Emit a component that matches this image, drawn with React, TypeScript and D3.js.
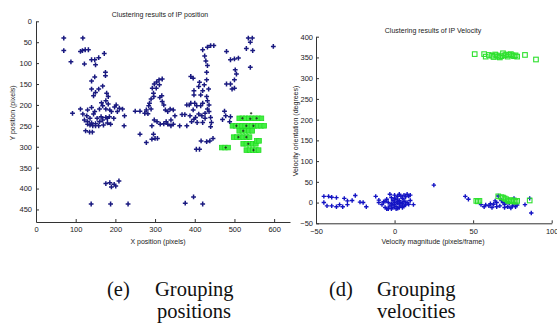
import { useEffect, useRef } from 'react';
import * as d3 from 'd3';

type Pt = [number, number];

// ---- tick labels ----
const posXTicks = [0, 100, 200, 300, 400, 500, 600];
const posYTicks = [0, 50, 100, 150, 200, 250, 300, 350, 400, 450];
const velXTicks = [-50, 0, 50, 100];
const velYTicks = [-50, 0, 50, 100, 150, 200, 250, 300, 350, 400];

// ---- position clustering (pixels) ----
const posBlue: Pt[] = [
  [70, 40], [70, 70], [88, 97], [118, 40], [112, 72], [117, 70], [124, 68], [132, 68], [122, 102], [140, 92],
  [148, 92], [150, 104], [158, 87], [172, 77], [175, 122], [175, 130], [148, 133], [140, 143], [140, 162], [150, 170],
  [145, 178], [158, 162], [168, 155], [178, 172], [182, 180], [176, 190], [182, 198], [168, 202], [160, 210], [176, 210],
  [186, 212], [148, 216], [140, 206], [130, 212], [112, 210], [92, 220], [118, 222], [122, 236], [130, 240], [136, 248],
  [143, 250], [150, 245], [160, 240], [168, 236], [176, 230], [185, 228], [188, 246], [170, 248], [158, 250], [150, 250],
  [140, 243], [130, 246], [125, 262], [135, 265], [142, 265], [190, 216], [198, 205], [205, 216], [210, 208], [218, 210],
  [223, 226], [222, 250], [196, 232], [180, 243], [164, 228], [154, 232], [145, 222], [136, 232], [128, 226], [202, 200],
  [165, 195], [180, 232],
  [250, 215], [262, 215], [262, 270], [274, 220], [278, 290], [282, 221], [290, 210], [286, 196], [290, 186], [296, 172],
  [293, 160], [298, 150], [304, 145], [310, 140], [318, 138], [311, 152], [303, 160], [297, 180], [284, 202], [278, 212],
  [312, 182], [317, 178], [318, 192], [322, 200], [326, 212], [332, 216], [338, 210], [346, 212], [350, 226], [340, 236],
  [332, 246], [322, 245], [313, 246], [305, 240], [298, 236], [292, 250], [296, 270], [292, 282], [300, 280], [306, 280],
  [340, 250], [346, 246], [362, 250], [368, 223], [375, 223], [380, 250], [328, 240],
  [380, 200], [386, 200], [390, 132], [396, 136], [398, 166], [390, 196], [396, 212], [388, 226], [392, 240], [398, 234],
  [402, 230], [406, 242], [410, 222], [418, 226], [420, 242], [426, 220], [415, 202], [420, 196], [412, 146], [410, 156],
  [424, 152], [430, 140], [430, 122], [432, 106], [428, 95], [425, 83], [420, 68], [432, 62], [440, 58], [448, 58],
  [435, 162], [430, 180], [432, 190], [436, 200], [440, 230], [442, 242], [440, 252], [438, 286], [446, 280], [430, 288],
  [416, 286], [404, 306], [412, 306], [398, 176], [420, 166], [405, 202], [432, 210], [436, 216], [400, 196], [426, 232],
  [415, 176],
  [480, 72], [490, 92], [500, 90], [510, 88], [480, 150], [490, 150], [494, 162], [500, 160], [500, 140], [505, 126],
  [502, 116], [475, 215], [470, 235], [478, 226], [490, 228], [488, 240], [530, 65], [535, 40], [545, 40], [540, 50],
  [546, 70], [540, 110], [598, 60],
  [176, 388], [186, 386], [190, 396], [197, 390], [201, 394], [209, 382], [139, 437], [188, 437], [232, 437], [376, 435],
  [397, 420], [420, 437],
];

const posGreen: Pt[] = [
  [512, 232], [520, 232], [528, 232], [536, 232], [544, 232], [552, 232], [560, 232], [568, 232],
  [495, 250], [503, 250], [511, 250], [519, 250], [527, 250], [535, 250], [543, 250], [551, 250], [559, 250], [567, 250], [575, 250],
  [512, 262], [520, 262], [528, 262], [536, 262], [545, 262],
  [498, 277], [506, 277], [514, 277], [522, 277], [530, 277], [538, 277],
  [522, 293], [530, 293], [538, 293], [546, 293], [554, 293],
  [530, 308], [538, 308], [546, 308], [554, 308], [561, 308],
  [556, 286], [562, 286], [468, 302], [476, 302], [484, 302],
];

const posInside: Pt[] = [
  [520, 232], [540, 233], [556, 232], [505, 250], [530, 250], [548, 250], [522, 262], [510, 277], [530, 277],
  [535, 293], [548, 308], [478, 302], [542, 220],
];

// ---- velocity clustering (magnitude, orientation) ----
const velBlue: Pt[] = [
  [-45, 15], [-42, 15], [-40, 13], [-37, 12], [-32, 10], [-45, 0], [-43, -8], [-40, -8], [-37, -10], [-35, -5],
  [-33, -10], [-30, -5], [-30, 4], [-25, 17], [-27, 5], [-22, 1], [-20, 0], [-18, -10], [-12, 15], [-10, 0], [-10, 6],
  [-8, -5], [-7, 2], [-6, -12], [-5, 8], [-4, -15], [-4, 0], [-3, -8], [-3, 20], [-2, -3], [-2, 12], [-1, -12], [-1, 5],
  [0, -5], [0, 18], [0, 0], [1, -10], [1, 8], [2, -2], [2, 15], [2, -14], [3, 20], [3, 5], [4, -8], [4, 0], [4, 16],
  [5, -3], [5, 10], [5, -12], [6, 18], [6, 2], [7, -6], [7, 14], [8, 0], [8, 20], [9, -4], [9, 16], [10, 18], [10, 5],
  [12, -5], [-5, -15], [-2, -15], [1, -15], [3, -12], [6, -9], [-6, 3], [0, 10], [2, 2], [-1, -6], [3, -3], [6, 6],
  [25, 42],
  [45, 15], [47, 8], [55, -5], [57, -10], [60, -8], [62, -12], [63, -4], [65, 0], [65, -10], [67, -8], [68, 5], [70, -5],
  [70, -12], [72, -10], [73, -2], [74, -13], [75, -8], [76, -2], [77, -10], [78, -6], [76, 10], [66, 16], [64, 4], [69, 0],
  [71, 2], [83, -5], [86, 10], [87, -25], [58, -6], [61, -3],
];

const velGreen: Pt[] = [
  [52, 4], [53, 3], [54, 4], [66, 15], [68, 13], [70, 10], [71, 8], [72, 5], [73, 3], [74, 6], [75, 3], [76, 5],
  [77, 2], [78, 4], [86, 5], [69, 12],
  [51, 358], [57, 358], [58, 352], [60, 356], [62, 354], [63, 351], [64, 357], [65, 355], [66, 352], [67, 350],
  [68, 353], [69, 360], [70, 355], [71, 357], [72, 352], [73, 356], [74, 358], [75, 355], [76, 353], [77, 355],
  [78, 352], [83, 356], [90, 345],
];

const plus = (x: number, y: number, s: number) => `M${x - s},${y}H${x + s}M${x},${y - s}V${y + s}`;

export default function App() {
  const svgRef = useRef<SVGSVGElement>(null);

  useEffect(() => {
    if (!svgRef.current) return;
    const svg = d3.select(svgRef.current);
    svg.selectAll('*').remove();

    const font = 'Liberation Sans, Arial, sans-serif';

    const styleAxis = (g: d3.Selection<SVGGElement, unknown, null, undefined>) => {
      g.selectAll('path.domain').attr('stroke', '#333');
      g.selectAll('.tick line').attr('stroke', '#333');
      g.selectAll('.tick text').attr('fill', '#222').style('font-family', font).style('font-size', '7.5px');
    };

    // ---------- left: positions ----------
    const px = d3.scaleLinear().domain([0, 640]).range([36, 290]);
    const py = d3.scaleLinear().domain([0, 480]).range([21.3, 222]);

    const gl = svg.append('g');
    gl.append('g')
      .attr('transform', `translate(0,${py(480)})`)
      .call(d3.axisBottom(px).tickValues(posXTicks).tickSizeInner(-3).tickSizeOuter(0).tickPadding(5))
      .call(styleAxis);
    gl.append('g')
      .attr('transform', `translate(${px(0)},0)`)
      .call(d3.axisLeft(py).tickValues(posYTicks).tickSizeInner(-3).tickSizeOuter(0).tickPadding(4))
      .call(styleAxis);

    gl.selectAll('rect.g')
      .data(posGreen)
      .enter()
      .append('rect')
      .attr('x', d => px(d[0]) - 2.3)
      .attr('y', d => py(d[1]) - 2.3)
      .attr('width', 4.6)
      .attr('height', 4.6)
      .attr('fill', '#44ee44')
      .attr('stroke', '#22dd22')
      .attr('stroke-width', 0.8);

    gl.append('path')
      .attr('d', posBlue.map(d => plus(px(d[0]), py(d[1]), 2.4)).join(''))
      .attr('stroke', '#1a1a80')
      .attr('stroke-width', 1.5)
      .attr('fill', 'none');

    gl.append('path')
      .attr('d', posInside.map(d => plus(px(d[0]), py(d[1]), 1.2)).join(''))
      .attr('stroke', '#223322')
      .attr('stroke-width', 0.9)
      .attr('fill', 'none');

    gl.append('text').attr('x', 160).attr('y', 16.5).attr('text-anchor', 'middle')
      .style('font-family', font).style('font-size', '7px').attr('fill', '#222')
      .text('Clustering results of IP position');
    gl.append('text').attr('x', 158).attr('y', 243.5).attr('text-anchor', 'middle')
      .style('font-family', font).style('font-size', '7px').attr('fill', '#222')
      .text('X position (pixels)');
    gl.append('text').attr('transform', 'translate(14.5,113) rotate(-90)').attr('text-anchor', 'middle')
      .style('font-family', font).style('font-size', '7px').attr('fill', '#222')
      .text('Y position (pixels)');

    // ---------- right: velocities ----------
    const vx = d3.scaleLinear().domain([-50, 100]).range([316, 551.7]);
    const vy = d3.scaleLinear().domain([-50, 400]).range([223.3, 36.7]);

    const gr = svg.append('g');
    gr.append('g')
      .attr('transform', `translate(0,${vy(-50)})`)
      .call(d3.axisBottom(vx).tickValues(velXTicks).tickSizeInner(-3).tickSizeOuter(0).tickPadding(5))
      .call(styleAxis);
    gr.append('g')
      .attr('transform', `translate(${vx(-50)},0)`)
      .call(d3.axisLeft(vy).tickValues(velYTicks).tickSizeInner(-3).tickSizeOuter(0).tickPadding(3))
      .call(styleAxis);

    gr.append('path')
      .attr('d', velBlue.map(d => plus(vx(d[0]), vy(d[1]), 2.2)).join(''))
      .attr('stroke', '#1414c4')
      .attr('stroke-width', 1.4)
      .attr('fill', 'none');

    gr.selectAll('rect.v')
      .data(velGreen)
      .enter()
      .append('rect')
      .attr('x', d => vx(d[0]) - 2.3)
      .attr('y', d => vy(d[1]) - 2.3)
      .attr('width', 4.6)
      .attr('height', 4.6)
      .attr('fill', 'none')
      .attr('stroke', '#2ee02e')
      .attr('stroke-width', 1.1);

    gr.append('text').attr('x', 433).attr('y', 32.5).attr('text-anchor', 'middle')
      .style('font-family', font).style('font-size', '7px').attr('fill', '#222')
      .text('Clustering results of IP Velocity');
    gr.append('text').attr('x', 433).attr('y', 243.5).attr('text-anchor', 'middle')
      .style('font-family', font).style('font-size', '7px').attr('fill', '#222')
      .text('Velocity magnitude (pixels/frame)');
    gr.append('text').attr('transform', 'translate(297.5,131) rotate(-90)').attr('text-anchor', 'middle')
      .style('font-family', font).style('font-size', '7px').attr('fill', '#222')
      .text('Velocity orientation (degrees)');

    // ---------- captions ----------
    const serif = 'Liberation Serif, Times New Roman, serif';
    const cap = (x: number, y: number, t: string) =>
      svg.append('text').attr('x', x).attr('y', y)
        .style('font-family', serif).style('font-size', '20.5px').attr('fill', '#111').text(t);
    cap(107, 296, '(e)');
    cap(155, 296, 'Grouping');
    cap(157, 318, 'positions');
    cap(329, 296, '(d)');
    cap(377, 296, 'Grouping');
    cap(377, 318, 'velocities');
  }, []);

  return (
    <svg
      ref={svgRef}
      width={557}
      height={325}
      style={{ position: 'absolute', left: 0, top: 0, background: '#fff' }}
    />
  );
}
